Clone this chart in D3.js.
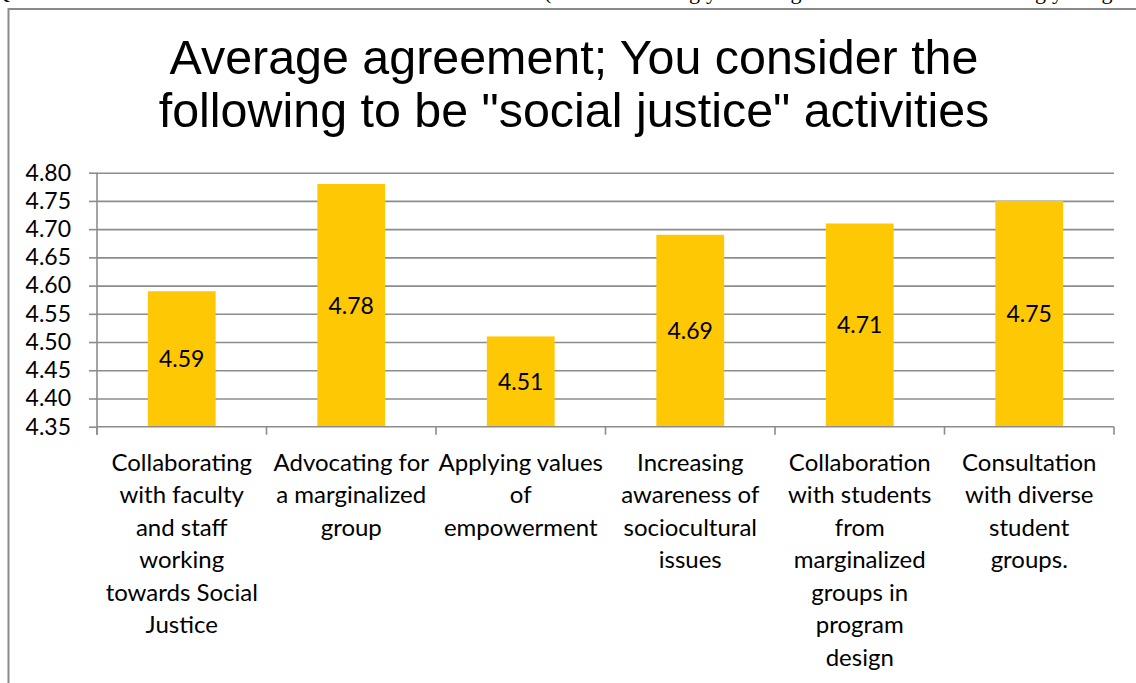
<!DOCTYPE html>
<html>
<head>
<meta charset="utf-8">
<script src="https://cdn.jsdelivr.net/npm/d3@7"></script>
<style>
  html, body { margin: 0; padding: 0; background: #ffffff; }
  svg { display: block; }
</style>
</head>
<body>
<svg id="chart" width="1136" height="683"></svg>
<script>
// Survey activities (label line breaks as they appear under the axis)
const categories = [
  "Collaborating\nwith faculty\nand staff\nworking\ntowards Social\nJustice",
  "Advocating for\na marginalized\ngroup",
  "Applying values\nof\nempowerment",
  "Increasing\nawareness of\nsociocultural\nissues",
  "Collaboration\nwith students\nfrom\nmarginalized\ngroups in\nprogram\ndesign",
  "Consultation\nwith diverse\nstudent\ngroups."
];
// Average agreement per activity
const values = [4.59, 4.78, 4.51, 4.69, 4.71, 4.75];
// Value axis ticks
const yTicks = [4.35, 4.40, 4.45, 4.50, 4.55, 4.60, 4.65, 4.70, 4.75, 4.80];
const yDomain = [4.35, 4.80];
// Chart title lines
const titleLines = [
  "Average agreement; You consider the",
  "following to be \"social justice\" activities"
];
// Question text line sitting above the chart frame (mostly off the page)
const headerPieces = [
  { text: "Q", x: -6, anchor: "start" },
  { text: "(where 1 = strongly", x: 717, anchor: "end" },
  { text: "disagree", x: 755, anchor: "start" },
  { text: "5 = strongly", x: 1063, anchor: "end" },
  { text: "disagree)", x: 1066, anchor: "start" }
];

const svg = d3.select("#chart");
const W = 1136, H = 683;
const plot = { left: 97, right: 1114, top: 172.7, bottom: 426.7 };
const gridColor = "#8c8c8c";
const barColor = "#FFC805";
const labelFont = "Lato, 'Open Sans', sans-serif";

// Header text, clipped by the page top
svg.append("g")
  .selectAll("text")
  .data(headerPieces)
  .join("text")
  .attr("x", d => d.x)
  .attr("y", -1.5)
  .attr("text-anchor", d => d.anchor)
  .attr("font-family", "'Liberation Serif', 'Times New Roman', serif")
  .attr("font-size", 22)
  .attr("fill", "#000")
  .text(d => d.text);

// Chart frame (top and left edges visible)
svg.append("path")
  .attr("d", d3.line()([[8.5, H], [8.5, 9], [W, 9]]))
  .attr("fill", "none")
  .attr("stroke", "#8a8a8a")
  .attr("stroke-width", 2);

// Title
svg.append("g")
  .selectAll("text")
  .data(titleLines)
  .join("text")
  .attr("x", 574)
  .attr("y", (d, i) => 73.5 + i * 53.3)
  .attr("text-anchor", "middle")
  .attr("font-family", "'Liberation Sans', Arial, sans-serif")
  .attr("font-size", 48.4)
  .attr("fill", "#000")
  .text(d => d);

// Scales
const x = d3.scaleBand()
  .domain(d3.range(categories.length))
  .range([plot.left, plot.right])
  .paddingInner(0.6)
  .paddingOuter(0.3);

const y = d3.scaleLinear()
  .domain(yDomain)
  .range([plot.bottom, plot.top]);

// Horizontal gridlines
svg.append("g")
  .attr("transform", `translate(${plot.left},0)`)
  .call(d3.axisLeft(y)
    .tickValues(yTicks.filter(t => t > yDomain[0]))
    .tickSize(-(plot.right - plot.left))
    .tickFormat(""))
  .call(g => g.select(".domain").remove())
  .call(g => g.selectAll("line")
    .attr("stroke", gridColor)
    .attr("stroke-width", 1.6));

// Bars
svg.append("g")
  .selectAll("rect")
  .data(values)
  .join("rect")
  .attr("x", (d, i) => x(i))
  .attr("width", x.bandwidth())
  .attr("y", d => y(d))
  .attr("height", d => y(yDomain[0]) - y(d))
  .attr("fill", barColor);

// Value labels, centred in each bar
svg.append("g")
  .selectAll("text")
  .data(values)
  .join("text")
  .attr("x", (d, i) => x(i) + x.bandwidth() / 2)
  .attr("y", d => (y(d) + y(yDomain[0])) / 2)
  .attr("dy", "0.36em")
  .attr("text-anchor", "middle")
  .attr("font-family", labelFont)
  .attr("font-size", 23)
  .attr("fill", "#000")
  .text(d => d3.format(".2f")(d));

// Y axis
const yAxis = svg.append("g")
  .attr("transform", `translate(${plot.left},0)`)
  .call(d3.axisLeft(y)
    .tickValues(yTicks)
    .tickSize(8)
    .tickPadding(18)
    .tickFormat(d3.format(".2f")));
yAxis.select(".domain")
  .attr("d", `M0,${plot.top}V${plot.bottom + 8}`)
  .attr("stroke", gridColor)
  .attr("stroke-width", 1.6);
yAxis.selectAll(".tick line")
  .attr("stroke", gridColor)
  .attr("stroke-width", 1.6);
yAxis.selectAll(".tick text")
  .attr("font-family", labelFont)
  .attr("font-size", 23)
  .attr("fill", "#000");

// X axis line with ticks on category boundaries
const xAxis = svg.append("g");
xAxis.append("line")
  .attr("x1", plot.left).attr("x2", plot.right)
  .attr("y1", y(yDomain[0])).attr("y2", y(yDomain[0]))
  .attr("stroke", gridColor)
  .attr("stroke-width", 1.6);
const boundaries = d3.range(categories.length + 1)
  .map(i => x.range()[0] + i * x.step());
xAxis.selectAll("line.tick")
  .data(boundaries)
  .join("line")
  .attr("class", "tick")
  .attr("x1", d => d).attr("x2", d => d)
  .attr("y1", y(yDomain[0])).attr("y2", y(yDomain[0]) + 8)
  .attr("stroke", gridColor)
  .attr("stroke-width", 1.6);

// Category labels
const catLabels = svg.append("g")
  .selectAll("text")
  .data(categories)
  .join("text")
  .attr("x", (d, i) => x(i) + x.bandwidth() / 2)
  .attr("y", 462)
  .attr("text-anchor", "middle")
  .attr("font-family", labelFont)
  .attr("font-size", 24)
  .attr("fill", "#000");
catLabels.selectAll("tspan")
  .data(d => d.split("\n"))
  .join("tspan")
  .attr("x", function() { return this.parentNode.getAttribute("x"); })
  .attr("dy", (d, i) => i === 0 ? "0.36em" : 32.5)
  .text(d => d);
</script>
</body>
</html>
